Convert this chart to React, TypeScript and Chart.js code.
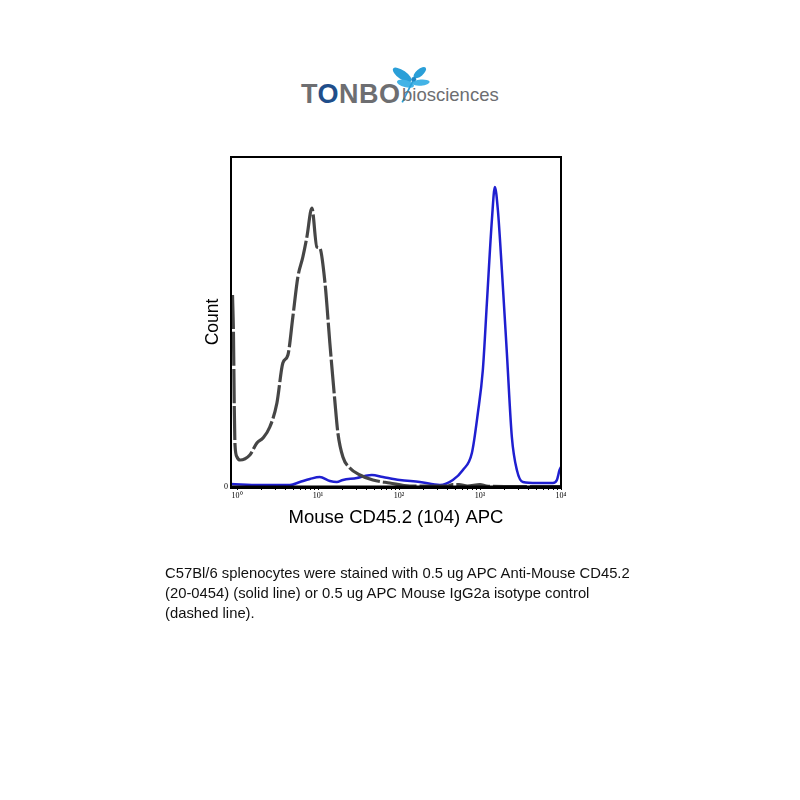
import React, { useEffect, useRef } from "react";
import { Chart, registerables } from "chart.js";

Chart.register(...registerables);

// Isotype control (dashed, dark grey)
const isotypeX = [0.88, 0.905, 0.925, 0.945, 1.0, 1.09, 1.44, 1.76, 2.09, 2.54, 3.11, 3.68, 4.25, 4.89, 5.64, 6.5, 7.29, 8.4, 9.68, 10.5, 12.2, 14.0, 16.1, 17.6, 20.3, 24.7, 32.9, 47.6, 77.1, 136, 250, 400, 460, 550, 700, 1000, 1200, 2000, 4000, 8000, 10000];
const isotypeY = [192, 150, 80, 42, 30, 27, 32, 44, 49, 60, 84, 124, 132, 170, 210, 230, 250, 279, 240, 239, 204, 144, 87, 54, 30, 19, 12, 7, 4, 1, 1, 1, 2.5, 2.5, 1, 2.5, 1, 0.5, 0.5, 0.5, 0.5];

// Anti-Mouse CD45.2 (solid, blue)
const cd45X = [0.845, 1.92, 4.5, 5.97, 7.94, 10.5, 14.0, 17.1, 20.3, 30.2, 37.9, 46.2, 63.2, 102, 181, 320, 462, 615, 794, 941, 1084, 1216, 1402, 1527, 1662, 1862, 2146, 2473, 2852, 3383, 5039, 7937, 8892, 9600, 10000];
const cd45Y = [3, 2, 2, 5, 8, 10, 6, 5, 7, 9, 11, 12, 10, 7, 5, 2, 7, 17, 34, 74, 117, 184, 267, 300, 277, 217, 134, 50, 17, 5, 4, 4, 7, 17, 20];

const majorTicks = [1, 10, 100, 1000, 10000];
const majorLabels = ["10⁰", "10¹", "10²", "10³", "10⁴"];
const xMin = 0.843;
const xMax = 10000;
const yMax = 330;

const framePlugin = {
  id: "frame",
  afterDatasetsDraw(chart: any) {
    const { ctx, chartArea } = chart;
    const { left, top, right, bottom } = chartArea;
    ctx.save();
    ctx.strokeStyle = "#000";
    ctx.lineWidth = 2;
    ctx.strokeRect(left, top, right - left, bottom - top);
    ctx.lineWidth = 3;
    ctx.beginPath();
    ctx.moveTo(left - 1, bottom);
    ctx.lineTo(right + 1, bottom);
    ctx.stroke();
    ctx.restore();
  },
};

function FlowChart() {
  const ref = useRef<HTMLCanvasElement>(null);
  useEffect(() => {
    if (!ref.current) return;
    const allTicks: number[] = [];
    for (let e = 0; e < 4; e++) {
      for (let m = 1; m < 10; m++) allTicks.push(m * Math.pow(10, e));
    }
    allTicks.push(10000);
    const chart = new Chart(ref.current, {
      type: "scatter",
      data: {
        datasets: [
          {
            label: "Isotype control",
            data: isotypeX.map((x, i) => ({ x, y: isotypeY[i] })),
            showLine: true,
            borderColor: "#464646",
            borderWidth: 3.2,
            borderDash: [34, 3],
            pointRadius: 0,
            cubicInterpolationMode: "monotone",
          },
          {
            label: "CD45.2",
            data: cd45X.map((x, i) => ({ x, y: cd45Y[i] })),
            showLine: true,
            borderColor: "#1f1fd0",
            borderWidth: 2.5,
            pointRadius: 0,
            cubicInterpolationMode: "monotone",
          },
        ],
      },
      options: {
        animation: false,
        responsive: false,
        layout: { padding: { left: 203, right: 239, top: 157, bottom: 271 } },
        plugins: { legend: { display: false }, tooltip: { enabled: false } },
        scales: {
          x: {
            type: "logarithmic",
            min: xMin,
            max: xMax,
            afterBuildTicks: (scale: any) => {
              scale.ticks = allTicks.map((v) => ({ value: v, major: majorTicks.includes(v) }));
            },
            afterFit: (scale: any) => {
              scale.height = 42;
            },
            ticks: {
              autoSkip: false,
              maxRotation: 0,
              padding: 1,
              color: "#000",
              font: { family: "'Liberation Serif', serif", size: 8 },
              callback: (value: any) => {
                const i = majorTicks.indexOf(Number(value));
                return i >= 0 ? majorLabels[i] : "";
              },
            },
            grid: { drawOnChartArea: false, drawTicks: true, tickLength: 3, color: "#000" },
            border: { display: true, color: "#000", width: 3 },
            title: {
              display: true,
              text: "Mouse CD45.2 (104) APC",
              color: "#000",
              padding: 0,
              font: { family: "'Liberation Sans', Arial, sans-serif", size: 18.5 },
            },
          },
          y: {
            min: 0,
            max: yMax,
            afterBuildTicks: (scale: any) => {
              scale.ticks = [{ value: 0 }];
            },
            afterFit: (scale: any) => {
              scale.width = 28;
            },
            ticks: {
              padding: 3,
              color: "#000",
              font: { family: "'Liberation Serif', serif", size: 8 },
              callback: (v: any) => String(v),
            },
            grid: { display: false, drawTicks: false },
            border: { display: true, color: "#000", width: 2 },
            title: {
              display: true,
              text: "Count",
              color: "#000",
              padding: 0,
              font: { family: "'Liberation Sans', Arial, sans-serif", size: 17.5 },
            },
          },
        },
      },
      plugins: [framePlugin],
    } as any);
    return () => chart.destroy();
  }, []);
  return (
    <canvas
      ref={ref}
      width={800}
      height={800}
      style={{ position: "absolute", left: 0, top: 0, width: 800, height: 800 }}
    />
  );
}

function Logo() {
  return (
    <div style={{ position: "absolute", left: 0, top: 0, width: 800, height: 140 }}>
      <svg
        width={44}
        height={44}
        viewBox="0 0 40 40"
        style={{ position: "absolute", left: 389, top: 65 }}
      >
        <ellipse cx={12} cy={9} rx={10} ry={4} fill="#2a9fd8" transform="rotate(35 12 9)" />
        <ellipse cx={15} cy={17} rx={8} ry={3.2} fill="#43b3e6" transform="rotate(15 15 17)" />
        <ellipse cx={28} cy={7} rx={7} ry={3.2} fill="#2a9fd8" transform="rotate(-40 28 7)" />
        <ellipse cx={29} cy={16} rx={8} ry={2.8} fill="#43b3e6" transform="rotate(-5 29 16)" />
        <line x1={22} y1={14} x2={12} y2={34} stroke="#2a9fd8" strokeWidth={1.6} />
        <circle cx={22.5} cy={13} r={2.2} fill="#1e86c4" />
      </svg>
      <div
        style={{
          position: "absolute",
          left: 301,
          top: 79,
          fontFamily: "'Liberation Sans', Arial, sans-serif",
          fontWeight: 700,
          fontSize: 27,
          lineHeight: "30px",
          letterSpacing: 0.5,
          color: "#6d6e71",
          whiteSpace: "nowrap",
        }}
      >
        T<span style={{ color: "#1f4e8a" }}>O</span>NBO
      </div>
      <div
        style={{
          position: "absolute",
          left: 402,
          top: 84,
          fontFamily: "'Liberation Sans', Arial, sans-serif",
          fontSize: 18.5,
          lineHeight: "22px",
          color: "#6d6e71",
          whiteSpace: "nowrap",
        }}
      >
        biosciences
      </div>
    </div>
  );
}

export default function App() {
  return (
    <div
      style={{
        position: "fixed",
        left: 0,
        top: 0,
        width: 800,
        height: 800,
        background: "#fff",
        overflow: "hidden",
      }}
    >
      <Logo />
      <FlowChart />
      <div
        style={{
          position: "absolute",
          left: 165,
          top: 563,
          fontFamily: "'Liberation Sans', Arial, sans-serif",
          fontSize: 14.8,
          lineHeight: "20px",
          color: "#111",
          whiteSpace: "nowrap",
        }}
      >
        <div>C57Bl/6 splenocytes were stained with 0.5 ug APC Anti-Mouse CD45.2</div>
        <div>(20-0454) (solid line) or 0.5 ug APC Mouse IgG2a isotype control</div>
        <div>(dashed line).</div>
      </div>
    </div>
  );
}
